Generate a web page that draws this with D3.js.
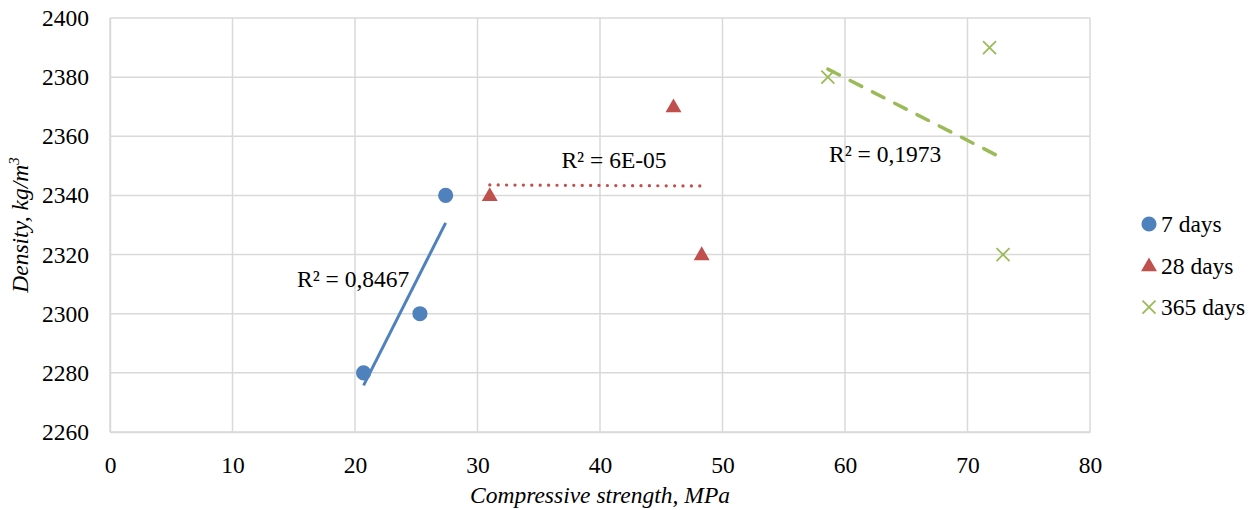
<!DOCTYPE html>
<html>
<head>
<meta charset="utf-8">
<script src="https://cdn.jsdelivr.net/npm/d3@7"></script>
<style>
  body { margin: 0; background: #fff; }
  svg text { font-family: "Times New Roman", "Liberation Serif", "DejaVu Serif", serif; fill: #000; }
</style>
</head>
<body>
<div class="chart-area"></div>
<script>
// data
var seriesNames = ["7 days", "28 days", "365 days"];
var strength7 = [20.7, 25.3, 27.4];
var density7 = [2280, 2300, 2340];
var strength28 = [31.0, 46.0, 48.3];
var density28 = [2340, 2370, 2320];
var strength365 = [58.6, 71.8, 72.9];
var density365 = [2380, 2390, 2320];
var r2Labels = ["R² = 0,8467", "R² = 6E-05", "R² = 0,1973"];
var xTicks = [0, 10, 20, 30, 40, 50, 60, 70, 80];
var yTicks = [2260, 2280, 2300, 2320, 2340, 2360, 2380, 2400];

var colors = ["#4F81BD", "#C0504D", "#9BBB59"];
var serif = "'Times New Roman', 'Liberation Serif', 'DejaVu Serif', serif";

var svg = d3.select(".chart-area")
    .append("svg")
    .attr("width", 1256)
    .attr("height", 510)
    .attr("font-family", serif);

var x = d3.scaleLinear().domain([0, 80]).range([110, 1090]);
var y = d3.scaleLinear().domain([2260, 2400]).range([432, 18]);

// grid
svg.append("g")
    .selectAll("line")
    .data(xTicks)
    .enter().append("line")
    .attr("x1", function(d) { return x(d); })
    .attr("x2", function(d) { return x(d); })
    .attr("y1", y(2260))
    .attr("y2", y(2400))
    .attr("stroke", "#D9D9D9")
    .attr("stroke-width", 1.5);
svg.append("g")
    .selectAll("line")
    .data(yTicks)
    .enter().append("line")
    .attr("x1", x(0))
    .attr("x2", x(80))
    .attr("y1", function(d) { return y(d); })
    .attr("y2", function(d) { return y(d); })
    .attr("stroke", "#D9D9D9")
    .attr("stroke-width", 1.5);

// axes (labels only, lines are the grid)
var xAxis = svg.append("g")
    .attr("transform", "translate(0," + y(2260) + ")")
    .call(d3.axisBottom(x).tickValues(xTicks).tickSize(0).tickPadding(24));
xAxis.attr("font-family", serif).attr("font-size", null);
xAxis.select(".domain").attr("stroke", "#D9D9D9").attr("stroke-width", 1.5);
xAxis.selectAll("text").style("font-size", "23.5px");

var yAxis = svg.append("g")
    .attr("transform", "translate(" + x(0) + ",0)")
    .call(d3.axisLeft(y).tickValues(yTicks).tickFormat(d3.format("d")).tickSize(0).tickPadding(21));
yAxis.attr("font-family", serif).attr("font-size", null);
yAxis.select(".domain").attr("stroke", "#D9D9D9").attr("stroke-width", 1.5);
yAxis.selectAll("text").style("font-size", "23.5px");

// axis titles
svg.append("text")
    .attr("x", 600)
    .attr("y", 503)
    .attr("text-anchor", "middle")
    .style("font-size", "23.5px")
    .style("font-style", "italic")
    .text("Compressive strength, MPa");

var yTitle = svg.append("text")
    .attr("transform", "translate(28,225) rotate(-90)")
    .attr("text-anchor", "middle")
    .style("font-size", "23.5px")
    .style("font-style", "italic");
yTitle.append("tspan").text("Density, kg/m");
yTitle.append("tspan").attr("dy", -9).style("font-size", "15px").text("3");

// trendlines
function fit(xs, ys) {
    var mx = d3.mean(xs), my = d3.mean(ys);
    var sxy = d3.sum(xs, function(v, i) { return (v - mx) * (ys[i] - my); });
    var sxx = d3.sum(xs, function(v) { return (v - mx) * (v - mx); });
    var b = sxy / sxx;
    var lo = d3.min(xs), hi = d3.max(xs);
    return [[lo, my + b * (lo - mx)], [hi, my + b * (hi - mx)]];
}
var line = d3.line()
    .x(function(d) { return x(d[0]); })
    .y(function(d) { return y(d[1]); });

svg.append("path")
    .attr("d", line(fit(strength7, density7)))
    .attr("stroke", colors[0])
    .attr("stroke-width", 3)
    .attr("fill", "none");
svg.append("path")
    .attr("d", line(fit(strength28, density28)))
    .attr("stroke", colors[1])
    .attr("stroke-width", 3.2)
    .attr("stroke-linecap", "round")
    .attr("stroke-dasharray", "0.1 8.3")
    .attr("fill", "none");
svg.append("path")
    .attr("d", line(fit(strength365, density365)))
    .attr("stroke", colors[2])
    .attr("stroke-width", 3.5)
    .attr("stroke-linecap", "round")
    .attr("stroke-dasharray", "13 12")
    .attr("fill", "none");

// markers
var circle = d3.symbol().type(d3.symbolCircle).size(180);
var tri = d3.symbol().type(d3.symbolTriangle).size(110);
var cross = "M -6.5 -6.5 L 6.5 6.5 M -6.5 6.5 L 6.5 -6.5";

svg.append("g")
    .selectAll("path")
    .data(d3.zip(strength7, density7))
    .enter().append("path")
    .attr("d", circle())
    .attr("transform", function(d) { return "translate(" + x(d[0]) + "," + y(d[1]) + ")"; })
    .attr("fill", colors[0]);
svg.append("g")
    .selectAll("path")
    .data(d3.zip(strength28, density28))
    .enter().append("path")
    .attr("d", tri())
    .attr("transform", function(d) { return "translate(" + x(d[0]) + "," + (y(d[1]) + 1) + ")"; })
    .attr("fill", colors[1]);
svg.append("g")
    .selectAll("path")
    .data(d3.zip(strength365, density365))
    .enter().append("path")
    .attr("d", cross)
    .attr("transform", function(d) { return "translate(" + x(d[0]) + "," + y(d[1]) + ")"; })
    .attr("stroke", colors[2])
    .attr("stroke-width", 1.8)
    .attr("fill", "none");

// R² labels
var labelPos = [[297, 287, "start"], [614, 168, "middle"], [829, 162, "start"]];
r2Labels.forEach(function(t, i) {
    svg.append("text")
        .attr("x", labelPos[i][0])
        .attr("y", labelPos[i][1])
        .attr("text-anchor", labelPos[i][2])
        .style("font-size", "23.5px")
        .text(t);
});

// legend
var legend = svg.append("g").attr("transform", "translate(1149,224)");
seriesNames.forEach(function(name, i) {
    var g = legend.append("g").attr("transform", "translate(0," + i * 41.6 + ")");
    if (i === 0) g.append("path").attr("d", circle()).attr("fill", colors[0]);
    if (i === 1) g.append("path").attr("d", tri()).attr("transform", "translate(0,1)").attr("fill", colors[1]);
    if (i === 2) g.append("path").attr("d", cross).attr("stroke", colors[2]).attr("stroke-width", 1.8);
    g.append("text")
        .attr("x", 12)
        .attr("y", 8)
        .style("font-size", "23.5px")
        .text(name);
});
</script>
</body>
</html>
